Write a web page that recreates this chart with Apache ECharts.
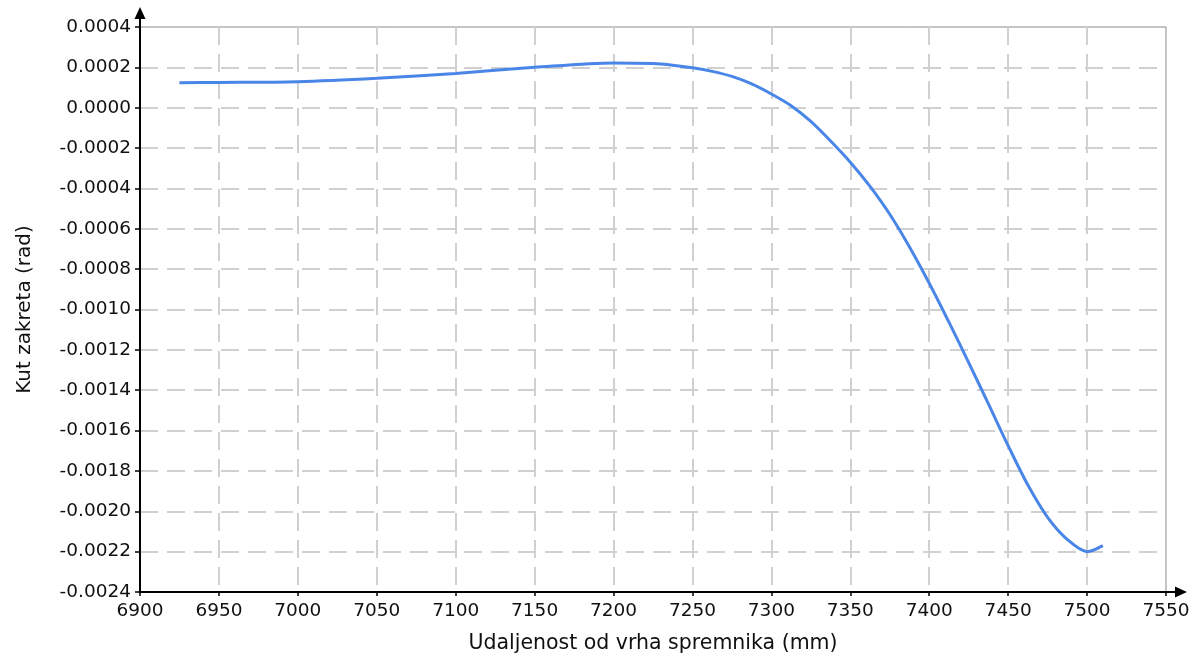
<!DOCTYPE html>
<html>
<head>
<meta charset="utf-8">
<script src="https://cdn.jsdelivr.net/npm/echarts@6/dist/echarts.min.js"></script>
<style>
html,body{margin:0;padding:0;background:#fff;}
#c{width:1199px;height:671px;}
</style>
</head>
<body>
<div id="c"></div>
<script>
// Data
var xValues = [6925, 6950, 7000, 7050, 7100, 7150, 7200, 7225, 7237.5, 7250, 7262.5, 7275, 7287.5, 7300, 7312.5, 7325, 7337.5, 7350, 7362.5, 7375, 7387.5, 7400, 7412.5, 7425, 7437.5, 7450, 7462.5, 7475, 7487.5, 7500, 7510];
var yValues = [0.000124, 0.000125, 0.000129, 0.000146, 0.000170, 0.000200, 0.000222, 0.000219, 0.000211, 0.000198, 0.000180, 0.000155, 0.000118, 0.000068, 0.000010, -0.000068, -0.000165, -0.000270, -0.000390, -0.000528, -0.000690, -0.000870, -0.001063, -0.001263, -0.001468, -0.001675, -0.001870, -0.002030, -0.002140, -0.002200, -0.002170];
var xAxisName = 'Udaljenost od vrha spremnika (mm)';
var yAxisName = 'Kut zakreta (rad)';

var seriesData = xValues.map(function (x, i) { return [x, yValues[i]]; });

var G = {left: 140, right: 33, top: 27, bottom: 79};
var W = 1199, H = 671;
var FONT = 'DejaVu Sans';
var TXT = '#111';

var chart = echarts.init(document.getElementById('c'), null, {renderer: 'canvas'});
chart.setOption({
  animation: false,
  backgroundColor: '#fff',
  grid: {left: G.left, right: G.right, top: G.top, bottom: G.bottom, show: true, borderColor: '#8a8a8a', borderWidth: 1, containLabel: false},
  xAxis: {
    type: 'value', min: 6900, max: 7550, interval: 50,
    name: xAxisName, nameLocation: 'middle', nameGap: 41,
    nameTextStyle: {fontFamily: FONT, fontSize: 20.5, color: TXT},
    axisLine: {show: true, onZero: false, lineStyle: {color: '#000', width: 2}, symbol: ['none', 'triangle'], symbolSize: [11, 12], symbolOffset: [0, 15]},
    axisTick: {show: true, inside: false, length: 4, lineStyle: {color: '#000', width: 1.5}},
    axisLabel: {fontFamily: FONT, fontSize: 18.5, color: TXT, margin: 10,
      formatter: function (v) { return String(v); }},
    splitLine: {show: true, showMinLine: false, showMaxLine: false, lineStyle: {color: '#d0d0d0', width: 2, type: [18, 9]}}
  },
  yAxis: {
    type: 'value', min: -0.0024, max: 0.0004, interval: 0.0002,
    name: yAxisName, nameLocation: 'middle', nameGap: 105,
    nameTextStyle: {fontFamily: FONT, fontSize: 20, color: TXT},
    axisLine: {show: true, onZero: false, lineStyle: {color: '#000', width: 2}, symbol: ['none', 'triangle'], symbolSize: [11, 12], symbolOffset: [0, 14]},
    axisTick: {show: true, inside: false, length: 5, lineStyle: {color: '#000', width: 1.5}},
    axisLabel: {fontFamily: FONT, fontSize: 18.5, color: TXT, margin: 9,
      formatter: function (v) { return v.toFixed(4); }},
    splitLine: {show: true, showMinLine: false, showMaxLine: false, lineStyle: {color: '#d0d0d0', width: 2, type: [18, 9]}}
  },
  graphic: [
    {type: 'line', shape: {x1: G.left, y1: G.top, x2: G.left, y2: G.top - 10}, style: {stroke: '#000', lineWidth: 2}},
    {type: 'line', shape: {x1: W - G.right, y1: H - G.bottom, x2: W - G.right + 10, y2: H - G.bottom}, style: {stroke: '#000', lineWidth: 2}}
  ],
  series: [{
    type: 'line', data: seriesData, smooth: 0.3, showSymbol: false,
    lineStyle: {color: '#4a86e8', width: 3}, itemStyle: {color: '#4a86e8'}
  }]
});
</script>
</body>
</html>
